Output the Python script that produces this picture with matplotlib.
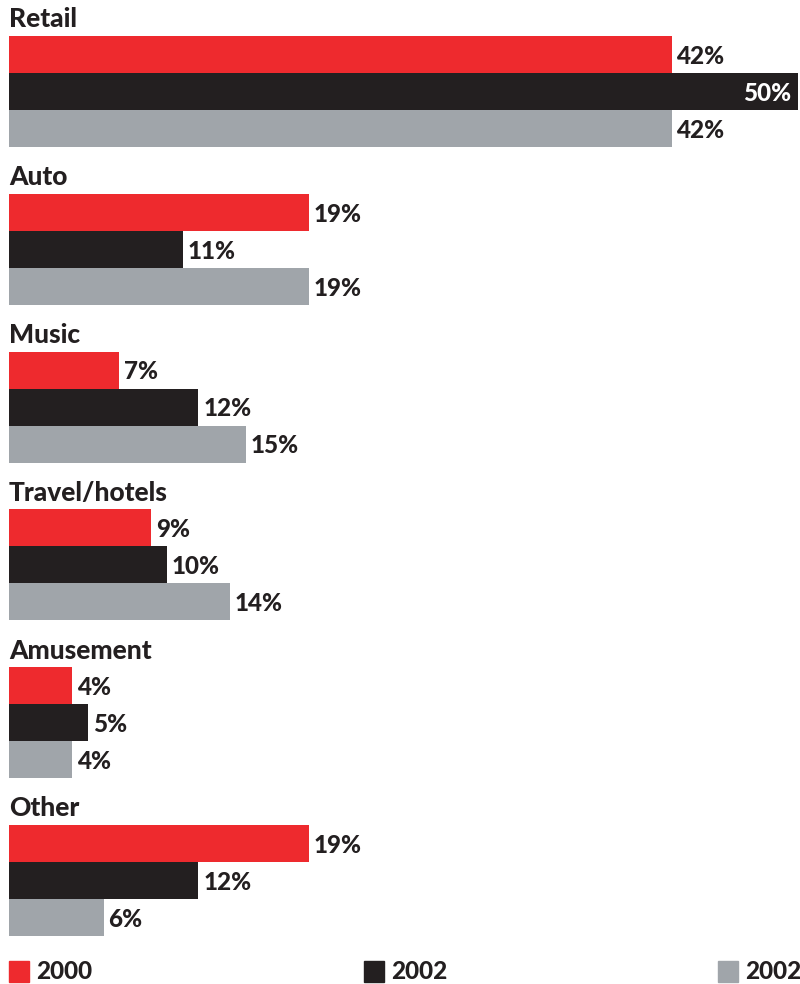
import matplotlib.pyplot as plt
from matplotlib.patches import Rectangle
import numpy as np

categories = ['Retail', 'Auto', 'Music', 'Travel/hotels', 'Amusement', 'Other']
series_labels = ['2000', '2002', '2002']
values_2000 = [42, 19, 7, 9, 4, 19]
values_2002a = [50, 11, 12, 10, 5, 12]
values_2002b = [42, 19, 15, 14, 4, 6]

colors = ['#ee2a2e', '#231f20', '#a0a5aa']
text_color = '#231f20'
font = ['Lato', 'DejaVu Sans']

W, H = 800, 984
fig = plt.figure(figsize=(W / 100, H / 100), dpi=100)

# plot area spans from the first bar top to the last bar bottom
top_px, bottom_px = 36, 936
left_px, right_px = 9, 798
ax = fig.add_axes([left_px / W, 1 - bottom_px / H,
                   (right_px - left_px) / W, (bottom_px - top_px) / H])

step = 158 / 37  # group spacing in bar heights
series = [values_2000, values_2002a, values_2002b]
for i, cat in enumerate(categories):
    base = i * step
    for j, vals in enumerate(series):
        y = base + j
        v = vals[i]
        ax.barh(y + 0.5, v, height=1.0, color=colors[j], edgecolor='none')
        if v >= 48:
            ax.text(v - 0.45, y + 0.55, f'{v}%', ha='right', va='center',
                    color='white', fontsize=17.5, fontweight='black', family=font)
        else:
            ax.text(v + 0.3, y + 0.55, f'{v}%', ha='left', va='center',
                    color=text_color, fontsize=17.5, fontweight='black', family=font)
    ax.text(0, base - 0.45, cat, ha='left', va='center', color=text_color,
            fontsize=19, fontweight='black', family=font, clip_on=False)

ax.set_xlim(0, 50)
ax.set_ylim(5 * step + 3, 0)
ax.axis('off')

# legend row along the bottom
for x0, lab, c in zip([9, 364, 718], series_labels, colors):
    fig.patches.append(Rectangle((x0 / W, 1 - 982 / H), 20 / W, 21 / H,
                                 transform=fig.transFigure, color=c))
    fig.text((x0 + 27) / W, 1 - 971.5 / H, lab, ha='left', va='center',
             color=text_color, fontsize=17.5, fontweight='black',
             family=['Liberation Sans Narrow', 'Lato', 'DejaVu Sans'])

fig.savefig('out.png', dpi=100, facecolor='white')
